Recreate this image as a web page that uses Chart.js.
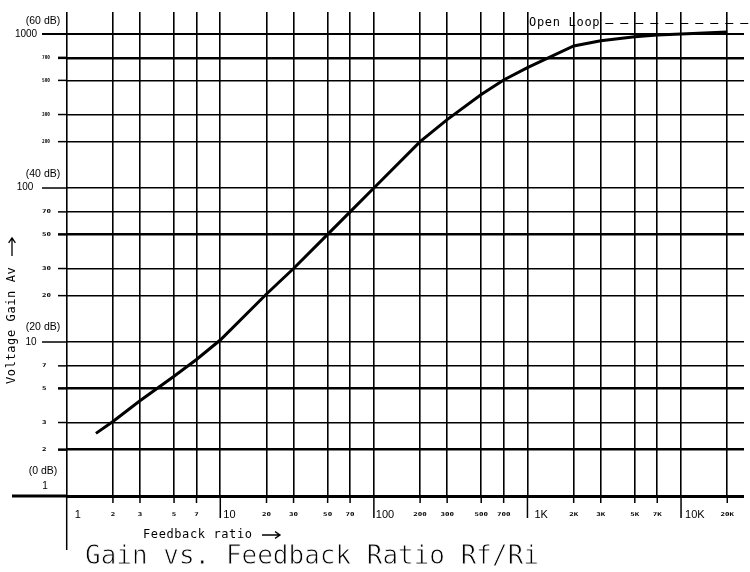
<!DOCTYPE html>
<html>
<head>
<meta charset="utf-8">
<script src="https://cdn.jsdelivr.net/npm/chart.js@4/dist/chart.umd.min.js"></script>
<style>
  html, body { margin: 0; padding: 0; background: #fff; }
  #wrap { position: relative; width: 750px; height: 572px; }
</style>
</head>
<body>
<div id="wrap"><canvas id="c"></canvas></div>
<script>
// ---- data ----
const ratio = [1.55, 2, 3, 5, 7, 10, 20, 30, 50, 70, 100, 200, 300, 500, 700, 1000, 2000, 3000, 5000, 7000, 10000, 20000];
const gain  = [2.55, 3.05, 4.15, 6.0, 7.7, 10.3, 20.5, 30, 50, 70, 100, 200, 278, 405, 503, 605, 836, 905, 960, 985, 1000, 1030];

const xTicks      = [1, 2, 3, 5, 7, 10, 20, 30, 50, 70, 100, 200, 300, 500, 700, 1000, 2000, 3000, 5000, 7000, 10000, 20000];
const xTickLabels = ['1','2','3','5','7','10','20','30','50','70','100','200','300','500','700','1K','2K','3K','5K','7K','10K','20K'];
const xDecades    = [1, 10, 100, 1000, 10000];

const yTicks      = [1, 2, 3, 5, 7, 10, 20, 30, 50, 70, 100, 200, 300, 500, 700, 1000];
const yTickLabels = ['1','2','3','5','7','10','20','30','50','70','100','200','300','500','700','1000'];
const dbValues    = [1000, 100, 10, 1];
const dbLabels    = ['(60 dB)', '(40 dB)', '(20 dB)', '(0 dB)'];
const yThick      = [700, 50, 5, 2];

const titleText  = 'Gain vs. Feedback Ratio Rf/Ri';
const xTitleText = 'Feedback ratio';
const yTitleText = 'Voltage Gain Av';
const openLoopText = 'Open Loop';

// ---- drawing helpers ----
function line(ctx, x0, y0, x1, y1, w) {
  ctx.lineWidth = w;
  ctx.beginPath(); ctx.moveTo(x0, y0); ctx.lineTo(x1, y1); ctx.stroke();
}
function arrow(ctx, x0, y0, x1, y1) {
  const ang = Math.atan2(y1 - y0, x1 - x0);
  const h = 6;
  ctx.lineWidth = 1.3;
  ctx.beginPath();
  ctx.moveTo(x0, y0); ctx.lineTo(x1, y1);
  ctx.moveTo(x1 - h * Math.cos(ang - 0.6), y1 - h * Math.sin(ang - 0.6));
  ctx.lineTo(x1, y1);
  ctx.lineTo(x1 - h * Math.cos(ang + 0.6), y1 - h * Math.sin(ang + 0.6));
  ctx.stroke();
}
function tinyText(ctx, txt, x, y, align, maxW) {
  ctx.save();
  ctx.translate(x, y);
  ctx.scale(1, 0.7);
  ctx.font = 'bold 7.5px "DejaVu Sans Mono"';
  ctx.textAlign = align;
  ctx.textBaseline = 'middle';
  if (maxW) ctx.fillText(txt, 0, 0, maxW); else ctx.fillText(txt, 0, 0);
  ctx.restore();
}

const decor = {
  id: 'decor',
  afterDraw(chart) {
    const { ctx, chartArea: a, scales: { x, y } } = chart;
    ctx.save();
    ctx.strokeStyle = '#000';
    ctx.fillStyle = '#000';

    // horizontal grid extensions to the left
    yTicks.forEach(v => {
      const py = y.getPixelForValue(v);
      if (v === 1) line(ctx, 12, py, a.left, py, 3);
      else if (dbValues.includes(v)) line(ctx, 42, py, a.left, py, v === 1000 ? 2 : 1.5);
      else line(ctx, 58, py, a.left, py, yThick.includes(v) ? 2.5 : 1.5);
    });
    // tick marks below x axis
    xTicks.forEach(v => {
      const px = x.getPixelForValue(v);
      let y1 = a.bottom + 7;
      if (v === 1) y1 = 550;
      else if (xDecades.includes(v)) y1 = a.bottom + 22;
      line(ctx, px, a.bottom, px, y1, 1.5);
    });

    // x tick labels
    const majorOff = { 1: 8, 10: 3, 100: 2, 1000: 7, 10000: 4 };
    xTicks.forEach((v, i) => {
      const px = x.getPixelForValue(v);
      const ly = a.bottom + 19;
      if (xDecades.includes(v)) {
        ctx.font = '11px "Liberation Sans"';
        ctx.textAlign = 'left';
        ctx.textBaseline = 'middle';
        ctx.fillText(xTickLabels[i], px + majorOff[v], ly);
      } else {
        tinyText(ctx, xTickLabels[i], px, ly, 'center');
      }
    });

    // y tick labels
    const majX = { 1000: 26, 100: 25, 10: 31, 1: 45 };
    const majDy = { 1000: 0, 100: -0.5, 10: 0, 1: -9.5 };
    const dbDy = { 1000: -12.5, 100: -14, 10: -15, 1: -25 };
    yTicks.forEach((v, i) => {
      const py = y.getPixelForValue(v);
      const di = dbValues.indexOf(v);
      if (di >= 0) {
        ctx.textAlign = 'center';
        ctx.textBaseline = 'middle';
        ctx.font = '10px "Liberation Sans"';
        ctx.fillText(yTickLabels[i], majX[v], py + majDy[v]);
        ctx.font = '10.5px "Liberation Sans"';
        ctx.fillText(dbLabels[di], 43, py + dbDy[v]);
      } else {
        tinyText(ctx, yTickLabels[i], 42, py, 'left', yTickLabels[i].length >= 3 ? 8 : undefined);
      }
    });

    // Open loop annotation
    ctx.font = '12px "DejaVu Sans Mono"';
    ctx.textAlign = 'left';
    ctx.textBaseline = 'middle';
    if ('letterSpacing' in ctx) ctx.letterSpacing = '0.7px';
    const olx = x.getPixelForValue(1000) + 1.5;
    ctx.fillText(openLoopText, olx, 23);
    const tw = ctx.measureText(openLoopText).width;
    ctx.setLineDash([8, 7]);
    line(ctx, olx + tw + 5, 23.5, 750, 23.5, 1);
    ctx.setLineDash([]);

    // axis titles
    if ('letterSpacing' in ctx) ctx.letterSpacing = '0.6px';
    ctx.font = '12px "DejaVu Sans Mono"';
    ctx.textAlign = 'left';
    ctx.textBaseline = 'middle';
    ctx.fillText(xTitleText, 143, 535);
    arrow(ctx, 262, 535, 280, 535);

    ctx.save();
    ctx.translate(12, 384);
    ctx.rotate(-Math.PI / 2);
    ctx.fillText(yTitleText, 0, 0);
    ctx.restore();
    arrow(ctx, 12, 256, 12, 238);

    // main title (thinned strokes)
    if ('letterSpacing' in ctx) ctx.letterSpacing = '0px';
    ctx.font = '26px "DejaVu Sans Mono"';
    ctx.textAlign = 'left';
    ctx.textBaseline = 'middle';
    ctx.fillText(titleText, 85, 557);
    ctx.strokeStyle = '#fff';
    ctx.lineWidth = 0.8;
    ctx.strokeText(titleText, 85, 557);
    ctx.restore();
  }
};

new Chart(document.getElementById('c'), {
  type: 'line',
  data: {
    datasets: [{
      data: ratio.map((r, i) => ({ x: r, y: gain[i] })),
      borderColor: '#000',
      borderWidth: 3,
      pointRadius: 0,
      tension: 0,
      fill: false
    }]
  },
  options: {
    responsive: true,
    maintainAspectRatio: false,
    animation: false,
    devicePixelRatio: 1,
    layout: { padding: { left: 66.7, top: 12, right: 6, bottom: 76 } },
    plugins: { legend: { display: false }, tooltip: { enabled: false }, title: { display: false } },
    scales: {
      x: {
        type: 'logarithmic', min: 1, max: 25700,
        afterBuildTicks: s => { s.ticks = xTicks.map(v => ({ value: v })); },
        ticks: { display: false },
        border: { display: false },
        grid: { color: '#000', lineWidth: 1.6, drawTicks: false }
      },
      y: {
        type: 'logarithmic', min: 1, max: 1390,
        afterBuildTicks: s => { s.ticks = yTicks.map(v => ({ value: v })); },
        ticks: { display: false },
        border: { display: false },
        grid: {
          color: '#000', drawTicks: false,
          lineWidth: c => {
            const v = c.tick ? c.tick.value : 0;
            if (v === 1) return 3;
            if (yThick.includes(v)) return 2.5;
            if (v === 1000) return 2;
            return 1.5;
          }
        }
      }
    }
  },
  plugins: [decor]
});
</script>
</body>
</html>
